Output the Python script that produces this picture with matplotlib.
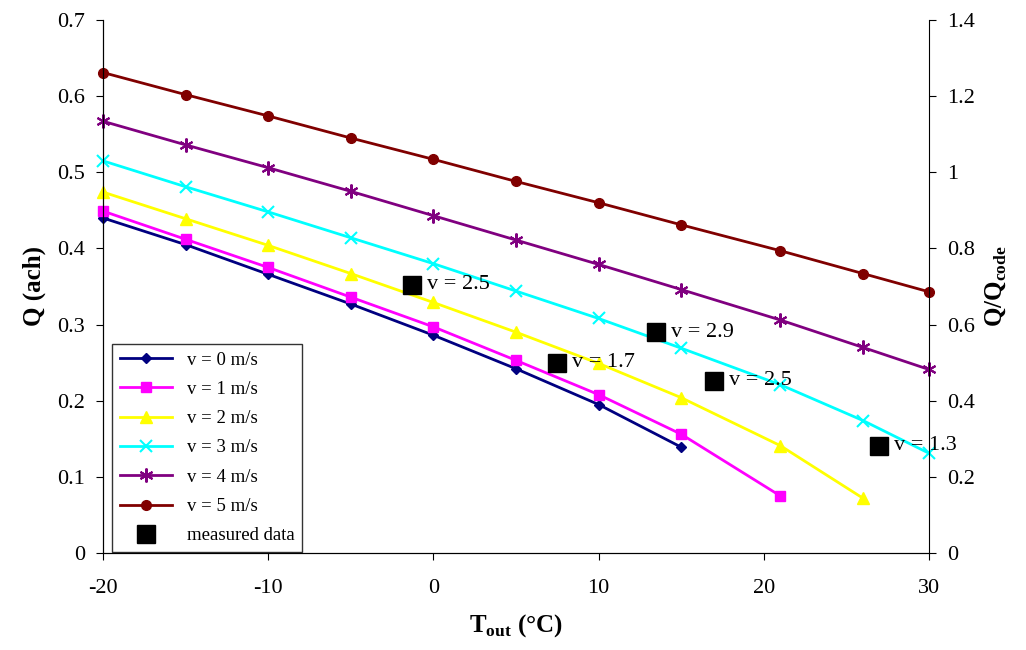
import matplotlib
matplotlib.use("Agg")
import matplotlib.pyplot as plt
from matplotlib.ticker import FuncFormatter

plt.rcParams['font.family'] = ['Liberation Serif', 'DejaVu Serif']
plt.rcParams['axes.unicode_minus'] = False

x0 = [-20, -15, -10, -5, 0, 5, 10, 15]
x1 = [-20, -15, -10, -5, 0, 5, 10, 15, 21]
x2 = [-20, -15, -10, -5, 0, 5, 10, 15, 21, 26]
x3 = [-20, -15, -10, -5, 0, 5, 10, 15, 21, 26, 30]
v0 = [0.440, 0.405, 0.366, 0.327, 0.286, 0.242, 0.195, 0.139]
v1 = [0.449, 0.412, 0.375, 0.336, 0.297, 0.253, 0.208, 0.156, 0.075]
v2 = [0.474, 0.439, 0.404, 0.367, 0.329, 0.290, 0.249, 0.204, 0.141, 0.072]
v3 = [0.515, 0.481, 0.448, 0.414, 0.380, 0.344, 0.308, 0.269, 0.221, 0.174, 0.131]
v4 = [0.567, 0.536, 0.506, 0.475, 0.443, 0.411, 0.379, 0.346, 0.306, 0.270, 0.241]
v5 = [0.631, 0.602, 0.574, 0.545, 0.517, 0.488, 0.460, 0.431, 0.397, 0.367, 0.343]
mx = [-1.3, 13.5, 7.5, 17.0, 27.0]
my = [0.352, 0.290, 0.250, 0.226, 0.141]
mlab = ["v = 2.5", "v = 2.9", "v = 1.7", "v = 2.5", "v = 1.3"]

fig = plt.figure(figsize=(10.26, 6.5), dpi=100)
ax = fig.add_axes([103/1026, 1-553/650, (929-103)/1026, (553-20)/650])

series = [
    (x0, v0, '#000080', 'D', 5, "v = 0 m/s"),
    (x1, v1, '#FF00FF', 's', 7, "v = 1 m/s"),
    (x2, v2, '#FFFF00', '^', 8, "v = 2 m/s"),
    (x3, v3, '#00FFFF', 'x', 8, "v = 3 m/s"),
    (x3, v4, '#800080', (6, 2, 0), 10, "v = 4 m/s"),
    (x3, v5, '#800000', 'o', 7, "v = 5 m/s"),
]
for xs, ys, c, m, ms, lab in series:
    ax.plot(xs, ys, color=c, marker=m, markersize=ms, lw=2, label=lab, clip_on=False,
            markeredgewidth=1.5 if m in ('x',) or isinstance(m, tuple) else 1)
ax.plot(mx, my, ls='none', marker='s', color='black', markersize=13, label='measured data')
for x, y, t in zip(mx, my, mlab):
    ax.text(x + 0.9, y, t, fontsize=16, va='center', ha='left')

ax.set_xlim(-20, 30)
ax.set_ylim(0, 0.7)
ax.set_xticks(range(-20, 31, 10))
ax.set_yticks([i/10 for i in range(8)])
ax.yaxis.set_major_formatter(FuncFormatter(lambda v, p: "0" if v == 0 else f"{v:g}"))
ax.tick_params(labelsize=16, direction='out', length=5)
ax.tick_params(axis='x', pad=14)
ax.tick_params(axis='y', pad=8)
ax.set_xlabel(r"T$_{\mathregular{out}}$ (°C)", fontsize=18, fontweight='bold', labelpad=10)
ax.set_ylabel("Q (ach)", fontsize=18, fontweight='bold', labelpad=8)
ax.spines['top'].set_visible(False)
ax.spines['right'].set_visible(False)

ax2 = ax.twinx()
ax2.set_ylim(0, 1.4)
ax2.set_yticks([i/5 for i in range(8)])
ax2.yaxis.set_major_formatter(FuncFormatter(lambda v, p: f"{v:g}"))
ax2.tick_params(labelsize=16, length=5, pad=8)
ax2.set_ylabel(r"Q/Q$_{\mathregular{code}}$", fontsize=18, fontweight='bold', labelpad=6)
ax2.spines['top'].set_visible(False)

leg = ax.legend(loc='lower left', bbox_to_anchor=(0.011, 0.002), fontsize=13.5, frameon=True,
                fancybox=False, edgecolor='black', borderaxespad=0.0, labelspacing=0.65,
                handlelength=2.8)
leg.get_frame().set_linewidth(1)

fig.savefig("out.png", dpi=100)
